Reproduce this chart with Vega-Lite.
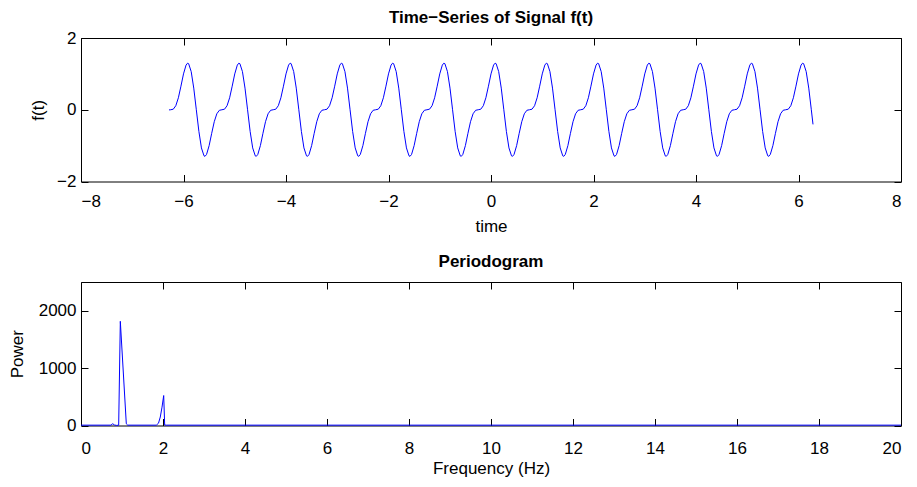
{
  "$schema": "https://vega.github.io/schema/vega-lite/v6.json",
  "padding": {"left": 8, "top": 9, "right": 5, "bottom": 5},
  "background": "white",
  "bounds": "flush",
  "spacing": 100,
  "config": {
    "font": "Liberation Sans",
    "view": {"stroke": null},
    "axis": {
      "grid": false,
      "domainColor": "black",
      "domainWidth": 1,
      "tickColor": "black",
      "tickWidth": 1,
      "tickSize": -7,
      "labelPadding": 12,
      "labelColor": "black",
      "labelFont": "Liberation Sans",
      "labelFontSize": 17,
      "titleFont": "Liberation Sans",
      "titleFontSize": 17,
      "titleFontWeight": "normal",
      "titleColor": "black"
    },
    "title": {"font": "Liberation Sans", "fontSize": 17, "fontWeight": "bold", "color": "black", "anchor": "middle"}
  },
  "datasets": {
    "sig": [
      {"t":-6.2832,"f":-0.004},{"t":-6.25,"f":0},{"t":-6.2,"f":0.0151},{"t":-6.15,"f":0.1123},{"t":-6.1,"f":0.3335},{"t":-6.05,"f":0.6572},
      {"t":-6,"f":1},{"t":-5.95,"f":1.245},{"t":-5.92,"f":1.2985},{"t":-5.9,"f":1.2845},{"t":-5.85,"f":1.0633},{"t":-5.8,"f":0.6029},{"t":-5.75,"f":0},{"t":-5.7,"f":-0.6029},{"t":-5.65,"f":-1.0633},{"t":-5.6,"f":-1.2845},{"t":-5.58,"f":-1.2985},{"t":-5.55,"f":-1.245},{"t":-5.5,"f":-1},{"t":-5.45,"f":-0.6572},{"t":-5.4,"f":-0.3335},{"t":-5.35,"f":-0.1123},{"t":-5.3,"f":-0.0151},{"t":-5.25,"f":0},{"t":-5.2,"f":0.0151},{"t":-5.15,"f":0.1123},{"t":-5.1,"f":0.3335},{"t":-5.05,"f":0.6572},
      {"t":-5,"f":1},{"t":-4.95,"f":1.245},{"t":-4.92,"f":1.2985},{"t":-4.9,"f":1.2845},{"t":-4.85,"f":1.0633},{"t":-4.8,"f":0.6029},{"t":-4.75,"f":0},{"t":-4.7,"f":-0.6029},{"t":-4.65,"f":-1.0633},{"t":-4.6,"f":-1.2845},{"t":-4.58,"f":-1.2985},{"t":-4.55,"f":-1.245},{"t":-4.5,"f":-1},{"t":-4.45,"f":-0.6572},{"t":-4.4,"f":-0.3335},{"t":-4.35,"f":-0.1123},{"t":-4.3,"f":-0.0151},{"t":-4.25,"f":0},{"t":-4.2,"f":0.0151},{"t":-4.15,"f":0.1123},{"t":-4.1,"f":0.3335},{"t":-4.05,"f":0.6572},
      {"t":-4,"f":1},{"t":-3.95,"f":1.245},{"t":-3.92,"f":1.2985},{"t":-3.9,"f":1.2845},{"t":-3.85,"f":1.0633},{"t":-3.8,"f":0.6029},{"t":-3.75,"f":0},{"t":-3.7,"f":-0.6029},{"t":-3.65,"f":-1.0633},{"t":-3.6,"f":-1.2845},{"t":-3.58,"f":-1.2985},{"t":-3.55,"f":-1.245},{"t":-3.5,"f":-1},{"t":-3.45,"f":-0.6572},{"t":-3.4,"f":-0.3335},{"t":-3.35,"f":-0.1123},{"t":-3.3,"f":-0.0151},{"t":-3.25,"f":0},{"t":-3.2,"f":0.0151},{"t":-3.15,"f":0.1123},{"t":-3.1,"f":0.3335},{"t":-3.05,"f":0.6572},
      {"t":-3,"f":1},{"t":-2.95,"f":1.245},{"t":-2.92,"f":1.2985},{"t":-2.9,"f":1.2845},{"t":-2.85,"f":1.0633},{"t":-2.8,"f":0.6029},{"t":-2.75,"f":0},{"t":-2.7,"f":-0.6029},{"t":-2.65,"f":-1.0633},{"t":-2.6,"f":-1.2845},{"t":-2.58,"f":-1.2985},{"t":-2.55,"f":-1.245},{"t":-2.5,"f":-1},{"t":-2.45,"f":-0.6572},{"t":-2.4,"f":-0.3335},{"t":-2.35,"f":-0.1123},{"t":-2.3,"f":-0.0151},{"t":-2.25,"f":0},{"t":-2.2,"f":0.0151},{"t":-2.15,"f":0.1123},{"t":-2.1,"f":0.3335},{"t":-2.05,"f":0.6572},
      {"t":-2,"f":1},{"t":-1.95,"f":1.245},{"t":-1.92,"f":1.2985},{"t":-1.9,"f":1.2845},{"t":-1.85,"f":1.0633},{"t":-1.8,"f":0.6029},{"t":-1.75,"f":0},{"t":-1.7,"f":-0.6029},{"t":-1.65,"f":-1.0633},{"t":-1.6,"f":-1.2845},{"t":-1.58,"f":-1.2985},{"t":-1.55,"f":-1.245},{"t":-1.5,"f":-1},{"t":-1.45,"f":-0.6572},{"t":-1.4,"f":-0.3335},{"t":-1.35,"f":-0.1123},{"t":-1.3,"f":-0.0151},{"t":-1.25,"f":0},{"t":-1.2,"f":0.0151},{"t":-1.15,"f":0.1123},{"t":-1.1,"f":0.3335},{"t":-1.05,"f":0.6572},
      {"t":-1,"f":1},{"t":-0.95,"f":1.245},{"t":-0.92,"f":1.2985},{"t":-0.9,"f":1.2845},{"t":-0.85,"f":1.0633},{"t":-0.8,"f":0.6029},{"t":-0.75,"f":0},{"t":-0.7,"f":-0.6029},{"t":-0.65,"f":-1.0633},{"t":-0.6,"f":-1.2845},{"t":-0.58,"f":-1.2985},{"t":-0.55,"f":-1.245},{"t":-0.5,"f":-1},{"t":-0.45,"f":-0.6572},{"t":-0.4,"f":-0.3335},{"t":-0.35,"f":-0.1123},{"t":-0.3,"f":-0.0151},{"t":-0.25,"f":0},{"t":-0.2,"f":0.0151},{"t":-0.15,"f":0.1123},{"t":-0.1,"f":0.3335},{"t":-0.05,"f":0.6572},
      {"t":0,"f":1},{"t":0.05,"f":1.245},{"t":0.08,"f":1.2985},{"t":0.1,"f":1.2845},{"t":0.15,"f":1.0633},{"t":0.2,"f":0.6029},{"t":0.25,"f":0},{"t":0.3,"f":-0.6029},{"t":0.35,"f":-1.0633},{"t":0.4,"f":-1.2845},{"t":0.42,"f":-1.2985},{"t":0.45,"f":-1.245},{"t":0.5,"f":-1},{"t":0.55,"f":-0.6572},{"t":0.6,"f":-0.3335},{"t":0.65,"f":-0.1123},{"t":0.7,"f":-0.0151},{"t":0.75,"f":0},{"t":0.8,"f":0.0151},{"t":0.85,"f":0.1123},{"t":0.9,"f":0.3335},{"t":0.95,"f":0.6572},
      {"t":1,"f":1},{"t":1.05,"f":1.245},{"t":1.08,"f":1.2985},{"t":1.1,"f":1.2845},{"t":1.15,"f":1.0633},{"t":1.2,"f":0.6029},{"t":1.25,"f":0},{"t":1.3,"f":-0.6029},{"t":1.35,"f":-1.0633},{"t":1.4,"f":-1.2845},{"t":1.42,"f":-1.2985},{"t":1.45,"f":-1.245},{"t":1.5,"f":-1},{"t":1.55,"f":-0.6572},{"t":1.6,"f":-0.3335},{"t":1.65,"f":-0.1123},{"t":1.7,"f":-0.0151},{"t":1.75,"f":0},{"t":1.8,"f":0.0151},{"t":1.85,"f":0.1123},{"t":1.9,"f":0.3335},{"t":1.95,"f":0.6572},
      {"t":2,"f":1},{"t":2.05,"f":1.245},{"t":2.08,"f":1.2985},{"t":2.1,"f":1.2845},{"t":2.15,"f":1.0633},{"t":2.2,"f":0.6029},{"t":2.25,"f":0},{"t":2.3,"f":-0.6029},{"t":2.35,"f":-1.0633},{"t":2.4,"f":-1.2845},{"t":2.42,"f":-1.2985},{"t":2.45,"f":-1.245},{"t":2.5,"f":-1},{"t":2.55,"f":-0.6572},{"t":2.6,"f":-0.3335},{"t":2.65,"f":-0.1123},{"t":2.7,"f":-0.0151},{"t":2.75,"f":0},{"t":2.8,"f":0.0151},{"t":2.85,"f":0.1123},{"t":2.9,"f":0.3335},{"t":2.95,"f":0.6572},
      {"t":3,"f":1},{"t":3.05,"f":1.245},{"t":3.08,"f":1.2985},{"t":3.1,"f":1.2845},{"t":3.15,"f":1.0633},{"t":3.2,"f":0.6029},{"t":3.25,"f":0},{"t":3.3,"f":-0.6029},{"t":3.35,"f":-1.0633},{"t":3.4,"f":-1.2845},{"t":3.42,"f":-1.2985},{"t":3.45,"f":-1.245},{"t":3.5,"f":-1},{"t":3.55,"f":-0.6572},{"t":3.6,"f":-0.3335},{"t":3.65,"f":-0.1123},{"t":3.7,"f":-0.0151},{"t":3.75,"f":0},{"t":3.8,"f":0.0151},{"t":3.85,"f":0.1123},{"t":3.9,"f":0.3335},{"t":3.95,"f":0.6572},
      {"t":4,"f":1},{"t":4.05,"f":1.245},{"t":4.08,"f":1.2985},{"t":4.1,"f":1.2845},{"t":4.15,"f":1.0633},{"t":4.2,"f":0.6029},{"t":4.25,"f":0},{"t":4.3,"f":-0.6029},{"t":4.35,"f":-1.0633},{"t":4.4,"f":-1.2845},{"t":4.42,"f":-1.2985},{"t":4.45,"f":-1.245},{"t":4.5,"f":-1},{"t":4.55,"f":-0.6572},{"t":4.6,"f":-0.3335},{"t":4.65,"f":-0.1123},{"t":4.7,"f":-0.0151},{"t":4.75,"f":0},{"t":4.8,"f":0.0151},{"t":4.85,"f":0.1123},{"t":4.9,"f":0.3335},{"t":4.95,"f":0.6572},
      {"t":5,"f":1},{"t":5.05,"f":1.245},{"t":5.08,"f":1.2985},{"t":5.1,"f":1.2845},{"t":5.15,"f":1.0633},{"t":5.2,"f":0.6029},{"t":5.25,"f":0},{"t":5.3,"f":-0.6029},{"t":5.35,"f":-1.0633},{"t":5.4,"f":-1.2845},{"t":5.42,"f":-1.2985},{"t":5.45,"f":-1.245},{"t":5.5,"f":-1},{"t":5.55,"f":-0.6572},{"t":5.6,"f":-0.3335},{"t":5.65,"f":-0.1123},{"t":5.7,"f":-0.0151},{"t":5.75,"f":0},{"t":5.8,"f":0.0151},{"t":5.85,"f":0.1123},{"t":5.9,"f":0.3335},{"t":5.95,"f":0.6572},
      {"t":6,"f":1},{"t":6.05,"f":1.245},{"t":6.08,"f":1.2985},{"t":6.1,"f":1.2845},{"t":6.15,"f":1.0633},{"t":6.2,"f":0.6029},{"t":6.25,"f":0},{"t":6.2832,"f":-0.408}
    ],
    "pg": [
      {"hz":0,"p":6},{"hz":0.73,"p":6},{"hz":0.773,"p":30},{"hz":0.82,"p":8},{"hz":0.87,"p":2},{"hz":0.919,"p":5},{"hz":0.959,"p":1815},{"hz":1.105,"p":30},{"hz":1.139,"p":6},{"hz":1.837,"p":6},{"hz":1.89,"p":40},{"hz":1.934,"p":148},{"hz":1.976,"p":320},{"hz":2.017,"p":522},{"hz":2.041,"p":8},{"hz":2.08,"p":6},{"hz":20,"p":6}
    ]
  },
  "vconcat": [
    {
      "width": 820,
      "height": 143.5,
      "title": {"text": "Time−Series of Signal f(t)", "offset": 2},
      "data": {"name": "sig"},
      "layer": [
        {
          "mark": {"type": "line", "color": "#0000ff", "strokeWidth": 1},
          "encoding": {
            "x": {"field": "t", "type": "quantitative", "scale": {"domain": [-8, 8], "nice": false, "zero": false},
                  "axis": {"title": "time", "values": [-8, -6, -4, -2, 0, 2, 4, 6, 8], "labelPadding": 19, "titlePadding": 9}},
            "y": {"field": "f", "type": "quantitative", "scale": {"domain": [-2, 2], "nice": false, "zero": false},
                  "axis": {"title": "f(t)", "values": [-2, 0, 2], "titlePadding": 9}}
          }
        },
        {
          "mark": {"type": "line", "strokeOpacity": 0},
          "encoding": {
            "x": {"field": "t", "type": "quantitative", "scale": {"domain": [-8, 8], "nice": false, "zero": false},
                  "axis": {"orient": "top", "labels": false, "title": null, "values": [-8, -6, -4, -2, 0, 2, 4, 6, 8]}},
            "y": {"field": "f", "type": "quantitative", "scale": {"domain": [-2, 2], "nice": false, "zero": false},
                  "axis": {"orient": "right", "labels": false, "title": null, "values": [-2, 0, 2]}}
          }
        }
      ],
      "resolve": {"axis": {"x": "independent", "y": "independent"}}
    },
    {
      "width": 820,
      "height": 143.5,
      "title": {"text": "Periodogram", "offset": 11},
      "data": {"name": "pg"},
      "layer": [
        {
          "mark": {"type": "line", "color": "#0000ff", "strokeWidth": 1},
          "encoding": {
            "x": {"field": "hz", "type": "quantitative", "scale": {"domain": [0, 20], "nice": false},
                  "axis": {"title": "Frequency (Hz)", "values": [0, 2, 4, 6, 8, 10, 12, 14, 16, 18, 20], "labelPadding": 22, "titlePadding": 4}},
            "y": {"field": "p", "type": "quantitative", "scale": {"domain": [0, 2500], "nice": false},
                  "axis": {"title": "Power", "values": [0, 1000, 2000], "format": "d", "titlePadding": 12}}
          }
        },
        {
          "mark": {"type": "line", "strokeOpacity": 0},
          "encoding": {
            "x": {"field": "hz", "type": "quantitative", "scale": {"domain": [0, 20], "nice": false},
                  "axis": {"orient": "top", "labels": false, "title": null, "values": [0, 2, 4, 6, 8, 10, 12, 14, 16, 18, 20]}},
            "y": {"field": "p", "type": "quantitative", "scale": {"domain": [0, 2500], "nice": false},
                  "axis": {"orient": "right", "labels": false, "title": null, "values": [0, 1000, 2000]}}
          }
        }
      ],
      "resolve": {"axis": {"x": "independent", "y": "independent"}}
    }
  ]
}
